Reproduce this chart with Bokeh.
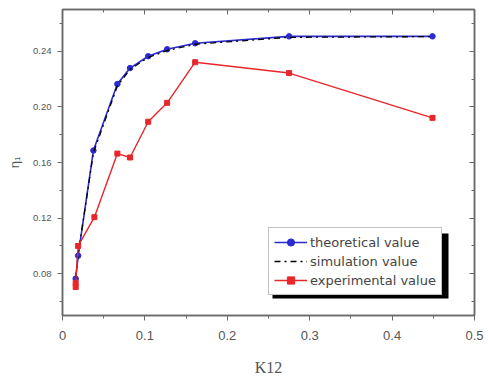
from bokeh.plotting import figure
from bokeh.models import (LinearAxis, SingleIntervalTicker, CustomJSTickFormatter,
                          Range1d, Legend, LegendItem, BoxAnnotation)
from bokeh.embed import file_html
from bokeh.resources import INLINE

# K12 coupling coefficient and efficiency values
k12 = [0.016, 0.019, 0.0375, 0.0666, 0.082, 0.104, 0.127, 0.161, 0.275, 0.449]
theoretical = [0.0765, 0.093, 0.1686, 0.2164, 0.2279, 0.2364, 0.2414, 0.2457, 0.2507, 0.2507]
simulation = [0.0770, 0.094, 0.1670, 0.2150, 0.2270, 0.2355, 0.2405, 0.2450, 0.2500, 0.2505]

k12_exp = [0.016, 0.016, 0.019, 0.0387, 0.0666, 0.082, 0.104, 0.127, 0.161, 0.275, 0.449]
experimental = [0.0705, 0.0735, 0.100, 0.1207, 0.1664, 0.1636, 0.1893, 0.2029, 0.2321, 0.2243, 0.1921]

x_ticks_interval = 0.1
y_ticks_interval = 0.04

BLUE = "#2a2ad0"
RED = "#e8262a"
AXIS = "#6a6a6a"
TEXT = "#555555"

p = figure(width=488, height=378, output_backend="svg", toolbar_location=None,
           x_range=Range1d(0.0, 0.5), y_range=Range1d(0.05, 0.27),
           min_border_left=62, min_border_right=14, min_border_top=9, min_border_bottom=63,
           x_axis_label="K12", y_axis_label="η₁")
p.frame_width = 412
p.frame_height = 306
p.background_fill_color = "white"
p.border_fill_color = "white"
p.grid.visible = False
p.outline_line_color = AXIS
p.outline_line_width = 1.5

xt = SingleIntervalTicker(interval=x_ticks_interval, num_minor_ticks=2)
yt = SingleIntervalTicker(interval=y_ticks_interval, num_minor_ticks=2)

xa = p.xaxis[0]
xa.ticker = xt
xa.major_label_text_font_size = "13px"
xa.major_label_text_color = TEXT
xa.major_label_standoff = 10
xa.axis_label_text_font = "Liberation Serif"
xa.axis_label_text_font_style = "normal"
xa.axis_label_text_font_size = "16px"
xa.axis_label_text_color = TEXT
xa.axis_label_standoff = 16

ya = p.yaxis[0]
ya.ticker = yt
ya.formatter = CustomJSTickFormatter(code="return tick.toFixed(2);")
ya.major_label_text_font_size = "9.5px"
ya.major_label_text_color = TEXT
ya.major_label_standoff = 6
ya.axis_label_text_font_style = "normal"
ya.axis_label_text_font_size = "13px"
ya.axis_label_text_color = TEXT
ya.axis_label_standoff = 8

for ax in (xa, ya):
    ax.axis_line_color = AXIS
    ax.axis_line_width = 1.5
    ax.major_tick_line_color = AXIS
    ax.minor_tick_line_color = AXIS
    ax.major_tick_out = 5
    ax.major_tick_in = 0
    ax.minor_tick_out = 3
    ax.minor_tick_in = 0

blank = CustomJSTickFormatter(code="return '';")
top = LinearAxis(ticker=SingleIntervalTicker(interval=x_ticks_interval, num_minor_ticks=2),
                 formatter=blank)
right = LinearAxis(ticker=SingleIntervalTicker(interval=y_ticks_interval, num_minor_ticks=2),
                   formatter=blank)
for ax in (top, right):
    ax.axis_line_color = AXIS
    ax.axis_line_width = 1.5
    ax.major_tick_line_color = AXIS
    ax.minor_tick_line_color = AXIS
    ax.major_tick_in = 5
    ax.major_tick_out = 0
    ax.minor_tick_in = 3
    ax.minor_tick_out = 0
p.add_layout(top, "above")
p.add_layout(right, "right")

# curves
r_th_l = p.line(k12, theoretical, line_color=BLUE, line_width=1.6)
r_th_m = p.scatter(k12, theoretical, marker="circle", size=5.5, fill_color=BLUE, line_color=BLUE)
r_sim = p.line(k12, simulation, line_color="black", line_width=1.3, line_dash="dashdot")
r_ex_l = p.line(k12_exp, experimental, line_color=RED, line_width=1.4)
r_ex_m = p.scatter(k12_exp, experimental, marker="square", size=5, fill_color=RED, line_color=RED)

# legend drop shadow (screen units, measured from the frame's lower-left corner)
shadow = BoxAnnotation(left=210, right=386, top=82, bottom=17,
                       left_units="screen", right_units="screen",
                       top_units="screen", bottom_units="screen",
                       fill_color="black", fill_alpha=1.0, line_color=None)
p.add_layout(shadow)

legend = Legend(items=[
    LegendItem(label="theoretical value", renderers=[r_th_l, r_th_m]),
    LegendItem(label="simulation value", renderers=[r_sim]),
    LegendItem(label="experimental value", renderers=[r_ex_l, r_ex_m]),
], location=(206, 20))
legend.label_text_font = "DejaVu Sans"
legend.label_text_font_size = "13px"
legend.label_text_color = "#444444"
legend.label_height = 18
legend.glyph_height = 18
legend.glyph_width = 33
legend.label_standoff = 3
legend.spacing = 1
legend.padding = 5
legend.margin = 0
legend.border_line_color = "#888888"
legend.border_line_width = 1
legend.background_fill_alpha = 1.0
p.add_layout(legend, "center")

open("out.html", "w").write(file_html(p, INLINE))
